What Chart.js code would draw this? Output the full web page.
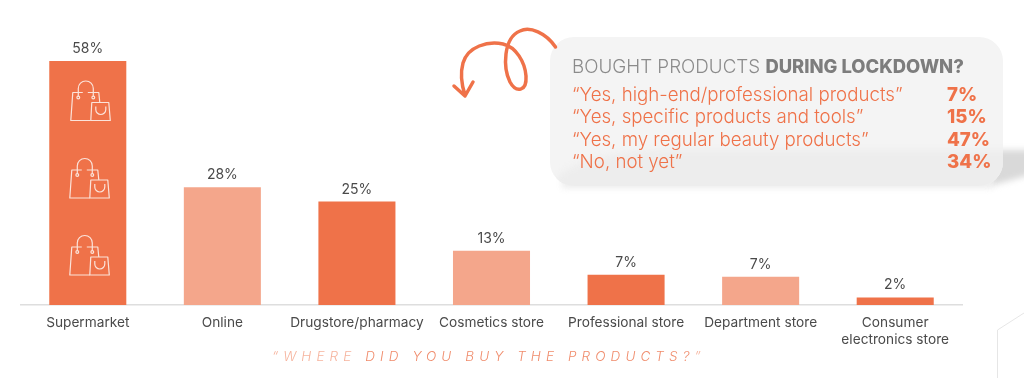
<!DOCTYPE html>
<html>
<head>
<meta charset="utf-8">
<style>
  html, body { margin: 0; padding: 0; background: #fff; }
  canvas { display: block; }
</style>
<script src="https://cdn.jsdelivr.net/npm/chart.js@4/dist/chart.umd.min.js"></script>
</head>
<body>
<canvas id="chart" width="1024" height="378"></canvas>
<script>
"use strict";

var categories = ['Supermarket', 'Online', 'Drugstore/pharmacy', 'Cosmetics store', 'Professional store', 'Department store', ['Consumer', 'electronics store']];
var barValues = [58, 28, 24.6, 12.9, 7.2, 6.7, 1.8];
var barLabels = ['58%', '28%', '25%', '13%', '7%', '7%', '2%'];
var panelAnswers = ['“Yes, high-end/professional products”', '“Yes, specific products and tools”', '“Yes, my regular beauty products”', '“No, not yet”'];
var panelShares = ['7%', '15%', '47%', '34%'];

var ORANGE = '#ef7249';
var SALMON = '#f4a68b';
var FONT = 'Inter, "Noto Sans", sans-serif';

function drawBag(ctx, cx, bottom) {
    // big bag and small bag, relative to the bar centre
    var x = cx - 17, y = bottom;
    ctx.save();
    ctx.strokeStyle = '#fbe3da';
    ctx.lineWidth = 1.2;
    ctx.lineJoin = 'round';
    ctx.beginPath();
    ctx.moveTo(x + 20, y);
    ctx.lineTo(x, y);
    ctx.lineTo(x + 2, y - 28);
    ctx.lineTo(x + 12, y - 28);
    ctx.moveTo(x + 17, y - 28);
    ctx.lineTo(x + 28, y - 28);
    ctx.lineTo(x + 29, y - 18);
    ctx.stroke();
    ctx.beginPath();
    ctx.moveTo(x + 7.5, y - 24);
    ctx.lineTo(x + 7.5, y - 32);
    ctx.arc(x + 15, y - 32, 7.5, Math.PI, 0);
    ctx.lineTo(x + 22.5, y - 24);
    ctx.stroke();
    ctx.beginPath();
    ctx.arc(x + 7.5, y - 23, 1.4, 0, Math.PI * 2);
    ctx.moveTo(x + 23.9, y - 23);
    ctx.arc(x + 22.5, y - 23, 1.4, 0, Math.PI * 2);
    ctx.stroke();
    ctx.beginPath();
    ctx.moveTo(x + 20, y);
    ctx.lineTo(x + 21, y - 18);
    ctx.lineTo(x + 38, y - 18);
    ctx.lineTo(x + 39.5, y);
    ctx.closePath();
    ctx.stroke();
    ctx.beginPath();
    ctx.moveTo(x + 25, y - 14);
    ctx.lineTo(x + 25, y - 11);
    ctx.arc(x + 30, y - 11, 5, Math.PI, 0, true);
    ctx.lineTo(x + 35, y - 14);
    ctx.stroke();
    ctx.restore();
}

var backdrop = {
    id: 'backdrop',
    beforeDraw: function (chart) {
        var ctx = chart.ctx;
        ctx.save();
        // corner outline, bottom right
        ctx.strokeStyle = '#e6e6e6';
        ctx.lineWidth = 1;
        ctx.beginPath();
        ctx.moveTo(1024, 313);
        ctx.lineTo(997.5, 330);
        ctx.lineTo(997.5, 378);
        ctx.stroke();
        ctx.restore();

        // shadow falling behind the panel
        ctx.save();
        ctx.filter = 'blur(3px)';
        ctx.fillStyle = '#d9d9d9';
        ctx.beginPath();
        ctx.moveTo(990, 150);
        ctx.lineTo(1040, 150);
        ctx.lineTo(1040, 172);
        ctx.lineTo(990, 186);
        ctx.closePath();
        ctx.fill();
        ctx.fillStyle = '#ececec';
        ctx.fillRect(562, 176, 430, 12);
        ctx.restore();

        // panel, with a slightly darker lower band
        ctx.save();
        ctx.beginPath();
        ctx.roundRect(550, 37, 453, 149, 24);
        ctx.fillStyle = '#f4f4f4';
        ctx.fill();
        ctx.clip();
        ctx.filter = 'blur(3px)';
        ctx.fillStyle = '#ededed';
        ctx.beginPath();
        ctx.moveTo(1010, 150);
        ctx.lineTo(660, 150);
        ctx.bezierCurveTo(610, 152, 575, 160, 556, 178);
        ctx.lineTo(556, 194);
        ctx.lineTo(1010, 194);
        ctx.closePath();
        ctx.fill();
        ctx.restore();
    },
    afterDraw: function (chart) {
        var ctx = chart.ctx;
        var bar = chart.getDatasetMeta(0).data[0];

        drawBag(ctx, bar.x, 120.5);
        drawBag(ctx, bar.x - 1, 198);
        drawBag(ctx, bar.x - 1, 275);

        // squiggle arrow
        ctx.save();
        ctx.strokeStyle = ORANGE;
        ctx.lineWidth = 3.5;
        ctx.lineCap = 'round';
        ctx.lineJoin = 'round';
        ctx.beginPath();
        ctx.moveTo(555.5, 47);
        ctx.bezierCurveTo(546, 33, 530, 26, 520, 31);
        ctx.bezierCurveTo(503, 38, 503, 68, 510, 82);
        ctx.bezierCurveTo(516, 93, 527, 92, 526, 76);
        ctx.bezierCurveTo(525, 62, 516, 47, 503, 44);
        ctx.bezierCurveTo(488, 41, 468, 46, 463, 63);
        ctx.bezierCurveTo(460, 74, 462, 86, 465, 95);
        ctx.moveTo(454, 86);
        ctx.lineTo(465, 96);
        ctx.lineTo(473, 82);
        ctx.stroke();
        ctx.restore();

        // panel text
        ctx.save();
        ctx.textBaseline = 'alphabetic';
        ctx.textAlign = 'left';
        ctx.fillStyle = '#8b8b8b';
        ctx.font = '300 18.8px ' + FONT;
        var head = 'BOUGHT PRODUCTS ';
        ctx.fillText(head, 572, 73);
        var headW = ctx.measureText(head).width;
        ctx.fillStyle = '#7d7d7d';
        ctx.font = '800 18.4px ' + FONT;
        ctx.fillText('DURING LOCKDOWN?', 572 + headW, 73);

        var rowY = [101, 123, 146, 168];
        panelAnswers.forEach(function (text, i) {
            ctx.fillStyle = ORANGE;
            ctx.font = '300 18.7px ' + FONT;
            ctx.fillText(text, 572, rowY[i]);
            ctx.font = '800 18.7px ' + FONT;
            ctx.fillText(panelShares[i], 947, rowY[i]);
        });
        ctx.restore();

        // caption under the axis
        ctx.save();
        ctx.font = 'italic 300 13.5px ' + FONT;
        ctx.letterSpacing = '5.1px';
        ctx.textBaseline = 'alphabetic';
        ctx.textAlign = 'left';
        ctx.fillStyle = '#f6b49e';
        var first = '“WHERE ';
        ctx.fillText(first, 272, 361);
        var firstW = ctx.measureText(first).width;
        ctx.fillStyle = '#f08c6c';
        ctx.fillText('DID YOU BUY THE PRODUCTS?', 272 + firstW, 361);
        var secondW = ctx.measureText('DID YOU BUY THE PRODUCTS?').width;
        ctx.fillStyle = '#f6b49e';
        ctx.fillText('”', 272 + firstW + secondW, 361);
        ctx.restore();
    }
};

var valueLabels = {
    id: 'valueLabels',
    afterDatasetsDraw: function (chart) {
        var ctx = chart.ctx;
        ctx.save();
        ctx.font = '14px ' + FONT;
        ctx.fillStyle = '#4a4a4a';
        ctx.textAlign = 'center';
        ctx.textBaseline = 'alphabetic';
        chart.getDatasetMeta(0).data.forEach(function (bar, i) {
            ctx.fillText(barLabels[i], bar.x, bar.y - 8);
        });
        ctx.restore();
    }
};

new Chart(document.getElementById('chart'), {
    type: 'bar',
    data: {
        labels: categories,
        datasets: [{
            data: barValues,
            backgroundColor: function (c) { return c.dataIndex % 2 ? SALMON : ORANGE; },
            categoryPercentage: 1,
            barPercentage: 0.5725
        }]
    },
    options: {
        responsive: false,
        animation: false,
        layout: { padding: { left: 20.5, right: 61.5, top: 61, bottom: 0 } },
        plugins: { legend: { display: false }, tooltip: { enabled: false } },
        scales: {
            x: {
                afterFit: function (axis) { axis.height = 73; },
                grid: { display: false, drawTicks: false },
                border: { color: '#dedede', width: 1.5 },
                ticks: {
                    color: '#4a4a4a',
                    padding: 10,
                    maxRotation: 0,
                    autoSkip: false,
                    font: { family: FONT, size: 13.7 }
                }
            },
            y: { display: false, min: 0, max: 58 }
        }
    },
    plugins: [backdrop, valueLabels]
});
</script>
</body>
</html>
